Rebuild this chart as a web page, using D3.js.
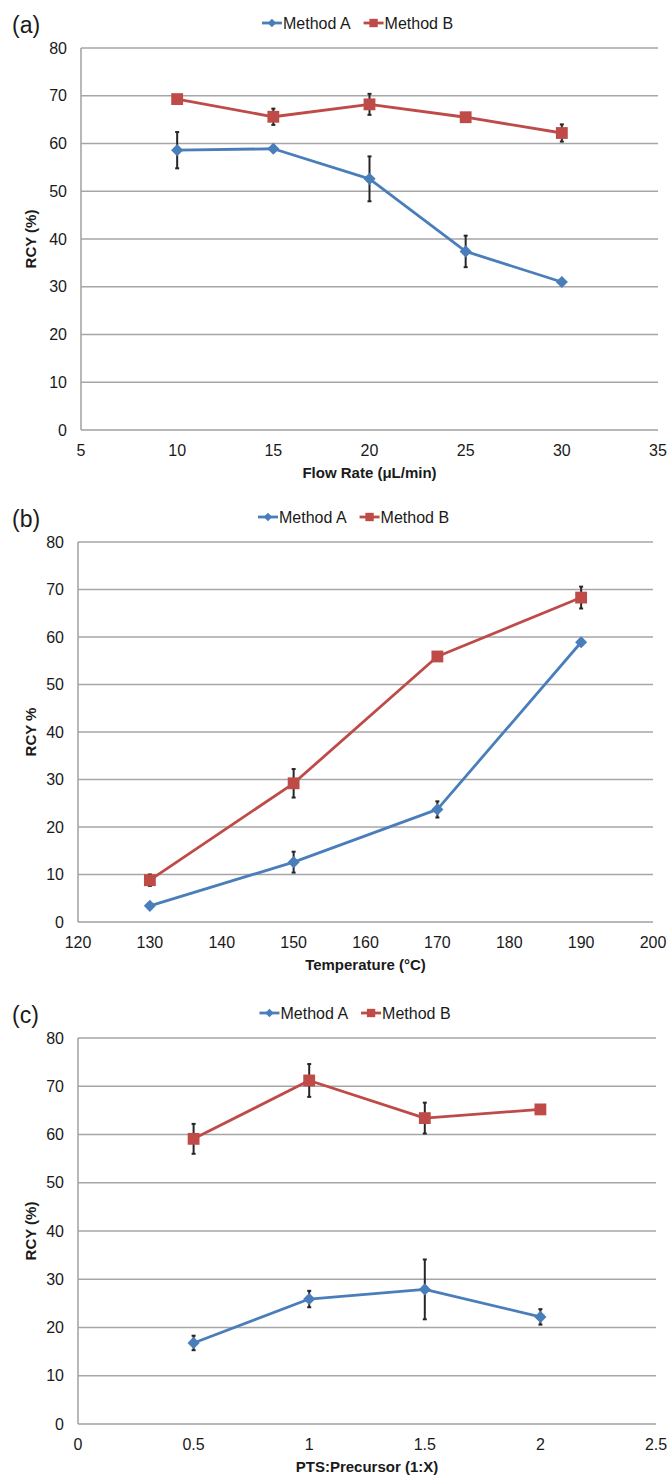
<!DOCTYPE html>
<html>
<head>
<meta charset="utf-8">
<script src="https://cdn.jsdelivr.net/npm/d3@7"></script>
<style>
  html, body { margin: 0; padding: 0; background: #fff; }
  svg { display: block; font-family: "Liberation Sans", Arial, sans-serif; }
</style>
</head>
<body>
<svg id="chart" width="668" height="1475"></svg>
<script>
// ---------- DATA ----------
const seriesNames = ["Method A", "Method B"];
const yTicks = [0, 10, 20, 30, 40, 50, 60, 70, 80];

// Panel (a): flow rate
const flowRate = [10, 15, 20, 25, 30];
const flowA = [58.6, 58.9, 52.6, 37.4, 31.0];
const flowAErr = [3.8, 0.4, 4.7, 3.3, 0.3];
const flowB = [69.3, 65.6, 68.2, 65.5, 62.2];
const flowBErr = [0.4, 1.7, 2.2, 0.4, 1.8];
const flowTicks = [5, 10, 15, 20, 25, 30, 35];

// Panel (b): temperature
const temperature = [130, 150, 170, 190];
const tempA = [3.4, 12.6, 23.7, 58.9];
const tempAErr = [0.3, 2.2, 1.7, 0.6];
const tempB = [8.8, 29.2, 55.9, 68.3];
const tempBErr = [1.2, 3.0, 0.4, 2.3];
const tempTicks = [120, 130, 140, 150, 160, 170, 180, 190, 200];

// Panel (c): PTS:Precursor ratio
const ratio = [0.5, 1, 1.5, 2];
const ratioA = [16.8, 25.9, 27.9, 22.2];
const ratioAErr = [1.5, 1.7, 6.2, 1.6];
const ratioB = [59.1, 71.2, 63.4, 65.2];
const ratioBErr = [3.1, 3.4, 3.2, 0.4];
const ratioTicks = [0, 0.5, 1, 1.5, 2, 2.5];

// ---------- STYLE ----------
const colA = "#4a7ebb";
const colB = "#be4b48";
const gridCol = "#a6a6a6";
const axisCol = "#a0a0a0";
const errCol = "#262626";

const svg = d3.select("#chart");

function drawPanel(cfg) {
  const g = svg.append("g");
  const x = d3.scaleLinear().domain(cfg.xDomain).range([cfg.left, cfg.right]);
  const y = d3.scaleLinear().domain([0, 80]).range([cfg.bottom, cfg.top]);

  // gridlines
  g.append("g").selectAll("line").data(yTicks.filter(d => d > 0)).join("line")
    .attr("x1", cfg.left).attr("x2", cfg.right)
    .attr("y1", d => y(d)).attr("y2", d => y(d))
    .attr("stroke", gridCol).attr("stroke-width", 1.3);

  // axes lines
  g.append("line").attr("x1", cfg.left).attr("x2", cfg.right)
    .attr("y1", y(0)).attr("y2", y(0)).attr("stroke", axisCol).attr("stroke-width", 1.5);
  g.append("line").attr("x1", cfg.left).attr("x2", cfg.left)
    .attr("y1", y(0)).attr("y2", y(80)).attr("stroke", axisCol).attr("stroke-width", 1.5);

  // y tick labels
  g.append("g").selectAll("text").data(yTicks).join("text")
    .attr("x", cfg.left - 14).attr("y", d => y(d))
    .attr("text-anchor", "end").attr("dominant-baseline", "central")
    .attr("font-size", 16).attr("fill", "#1a1a1a")
    .text(d => d);

  // x tick labels
  g.append("g").selectAll("text").data(cfg.xTicks).join("text")
    .attr("x", d => x(d)).attr("y", y(0) + 20)
    .attr("text-anchor", "middle").attr("dominant-baseline", "central")
    .attr("font-size", 16).attr("fill", "#1a1a1a")
    .text(d => d);

  // axis titles
  g.append("text")
    .attr("x", (cfg.left + cfg.right) / 2).attr("y", y(0) + 42)
    .attr("text-anchor", "middle").attr("dominant-baseline", "central")
    .attr("font-size", 15).attr("font-weight", "bold").attr("fill", "#1a1a1a")
    .text(cfg.xTitle);
  g.append("text")
    .attr("transform", `translate(30,${(y(0) + y(80)) / 2}) rotate(-90)`)
    .attr("text-anchor", "middle").attr("dominant-baseline", "central")
    .attr("font-size", 15).attr("font-weight", "bold").attr("fill", "#1a1a1a")
    .text(cfg.yTitle);

  // panel label
  g.append("text")
    .attr("x", 12).attr("y", cfg.top - 23)
    .attr("dominant-baseline", "central")
    .attr("font-size", 23).attr("fill", "#1a1a1a")
    .text(cfg.label);

  const series = [
    { name: seriesNames[0], vals: cfg.a, err: cfg.aErr, color: colA, shape: d3.symbolSquare, size: 74, rot: 45 },
    { name: seriesNames[1], vals: cfg.b, err: cfg.bErr, color: colB, shape: d3.symbolSquare, size: 140, rot: 0 }
  ];

  const line = d3.line().x(d => x(d[0])).y(d => y(d[1]));
  series.forEach(s => {
    const pts = cfg.xs.map((xv, i) => [xv, s.vals[i], s.err[i]]);
    g.append("path").datum(pts).attr("d", line)
      .attr("fill", "none").attr("stroke", s.color).attr("stroke-width", 2.8)
      .attr("stroke-linejoin", "round");
    // error bars
    const eb = g.append("g").attr("stroke", errCol).attr("stroke-width", 2);
    eb.selectAll("line.v").data(pts).join("line").attr("class", "v")
      .attr("x1", d => x(d[0])).attr("x2", d => x(d[0]))
      .attr("y1", d => y(d[1] - d[2])).attr("y2", d => y(d[1] + d[2]));
    eb.selectAll("line.t").data(pts).join("line").attr("class", "t")
      .attr("x1", d => x(d[0]) - 2).attr("x2", d => x(d[0]) + 2)
      .attr("y1", d => y(d[1] + d[2])).attr("y2", d => y(d[1] + d[2]));
    eb.selectAll("line.b").data(pts).join("line").attr("class", "b")
      .attr("x1", d => x(d[0]) - 2).attr("x2", d => x(d[0]) + 2)
      .attr("y1", d => y(d[1] - d[2])).attr("y2", d => y(d[1] - d[2]));
    // markers
    g.append("g").selectAll("path").data(pts).join("path")
      .attr("transform", d => `translate(${x(d[0])},${y(d[1])}) rotate(${s.rot})`)
      .attr("d", d3.symbol().type(s.shape).size(s.size))
      .attr("fill", s.color);
  });

  // legend
  const lg = g.append("g");
  const ly = cfg.top - 25;
  const items = [];
  series.forEach((s, i) => {
    const it = lg.append("g");
    it.append("line").attr("x1", 0).attr("x2", 20).attr("y1", 0).attr("y2", 0)
      .attr("stroke", s.color).attr("stroke-width", 2.8);
    it.append("path").attr("transform", `translate(10,0) rotate(${s.rot})`)
      .attr("d", d3.symbol().type(s.shape).size(i === 0 ? 36 : 70)).attr("fill", s.color);
    const t = it.append("text").attr("x", 21).attr("y", 0)
      .attr("dominant-baseline", "central").attr("font-size", 16).attr("fill", "#1a1a1a")
      .text(s.name);
    const w = 21 + t.node().getComputedTextLength();
    items.push({ it, w });
  });
  const gap = 13;
  const total = items.reduce((a, b) => a + b.w, 0) + gap;
  let start = (cfg.left + cfg.right) / 2 - 12 - total / 2;
  items.forEach(o => {
    o.it.attr("transform", `translate(${start},${ly})`);
    start += o.w + gap;
  });
}

drawPanel({
  label: "(a)", top: 48, bottom: 430, left: 81, right: 658,
  xDomain: [5, 35], xTicks: flowTicks, xs: flowRate,
  a: flowA, aErr: flowAErr, b: flowB, bErr: flowBErr,
  xTitle: "Flow Rate (\u03bcL/min)", yTitle: "RCY (%)"
});
drawPanel({
  label: "(b)", top: 542, bottom: 922, left: 78, right: 653,
  xDomain: [120, 200], xTicks: tempTicks, xs: temperature,
  a: tempA, aErr: tempAErr, b: tempB, bErr: tempBErr,
  xTitle: "Temperature (\u00b0C)", yTitle: "RCY %"
});
drawPanel({
  label: "(c)", top: 1038, bottom: 1424, left: 78, right: 656,
  xDomain: [0, 2.5], xTicks: ratioTicks, xs: ratio,
  a: ratioA, aErr: ratioAErr, b: ratioB, bErr: ratioBErr,
  xTitle: "PTS:Precursor (1:X)", yTitle: "RCY (%)"
});
</script>
</body>
</html>
